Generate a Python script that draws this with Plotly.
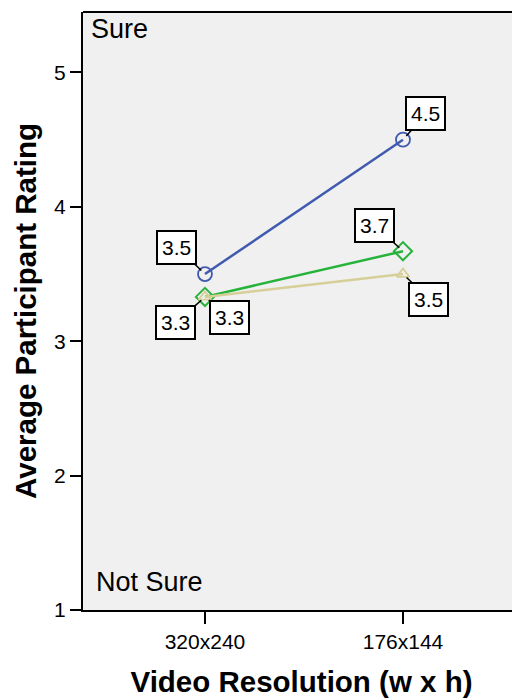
import plotly.graph_objects as go

categories = ["320x240", "176x144"]
series_names = ["Series A", "Series B", "Series C"]
blue_vals = [3.5, 4.5]
green_vals = [3.33, 3.67]
tan_vals = [3.33, 3.5]
blue_labels = ["3.5", "4.5"]
green_labels = ["3.3", "3.7"]
tan_labels = ["3.3", "3.5"]
y_ticks = [1, 2, 3, 4, 5]

BLUE = "#3F5AAE"
GREEN = "#27B33B"
TAN = "#D6CF98"
xpos = [0, 1]
FONT = "Liberation Sans, Arial"

fig = go.Figure()
fig.add_trace(go.Scatter(x=xpos, y=blue_vals, mode="lines+markers", name=series_names[0],
                         line=dict(color=BLUE, width=2.5),
                         marker=dict(symbol="circle-open", size=14, color=BLUE, line=dict(width=1.8))))
fig.add_trace(go.Scatter(x=xpos, y=green_vals, mode="lines+markers", name=series_names[1],
                         line=dict(color=GREEN, width=2.5),
                         marker=dict(symbol="diamond-open", size=14, color=GREEN, line=dict(width=2))))
fig.add_trace(go.Scatter(x=xpos, y=tan_vals, mode="lines+markers", name=series_names[2],
                         line=dict(color=TAN, width=2.5),
                         marker=dict(symbol="triangle-up-open", size=11, color=TAN, line=dict(width=1.8))))

offsets = {
    "blue": [(-28, -27), (23, -26)],
    "green": [(-29, 26), (-28, -26)],
    "tan": [(25, 21), (26, 25)],
}
for key, vals, labs in [("blue", blue_vals, blue_labels), ("green", green_vals, green_labels), ("tan", tan_vals, tan_labels)]:
    for i in range(2):
        ax, ay = offsets[key][i]
        fig.add_annotation(x=xpos[i], y=vals[i], text=labs[i], showarrow=True, arrowhead=0,
                           arrowwidth=1.5, arrowcolor="black", ax=ax, ay=ay, standoff=5,
                           font=dict(size=21, color="black", family=FONT),
                           bgcolor="white", bordercolor="black", borderwidth=2, borderpad=4)

fig.add_annotation(x=0.013, y=1.0, xref="paper", yref="paper", text="Sure", showarrow=False,
                   xanchor="left", yanchor="top", font=dict(size=27, color="black"))
fig.add_annotation(x=0.026, y=0.018, xref="paper", yref="paper", text="Not Sure", showarrow=False,
                   xanchor="left", yanchor="bottom", font=dict(size=27, color="black"))

fig.add_shape(type="line", xref="paper", yref="paper", x0=0, x1=1, y0=1, y1=1,
              line=dict(color="black", width=2))

# page body has an 8px margin, so the figure is sized to fill the 520x700 window
fig.update_layout(
    width=512, height=692,
    margin=dict(l=75, r=0, t=4, b=90),
    plot_bgcolor="#F0F0F0", paper_bgcolor="white",
    showlegend=False,
    font=dict(family=FONT, color="black"),
    xaxis=dict(range=[-0.616, 1.591], tickvals=xpos, ticktext=categories,
               showgrid=False, zeroline=False, showline=True, linecolor="black", linewidth=2,
               ticks="outside", ticklen=12, tickwidth=2, tickcolor="black",
               tickfont=dict(size=21),
               title=dict(text="<b>Video Resolution (w x h)</b>", font=dict(size=29.5), standoff=19)),
    yaxis=dict(range=[1, 5.45], tickvals=y_ticks, showgrid=False, zeroline=False,
               showline=True, linecolor="black", linewidth=2,
               ticks="outside", ticklen=11, tickwidth=2, tickcolor="black",
               tickfont=dict(size=21),
               title=dict(text="<b>Average Participant Rating</b>", font=dict(size=29.5), standoff=9)),
)

fig.write_html("out.html")
